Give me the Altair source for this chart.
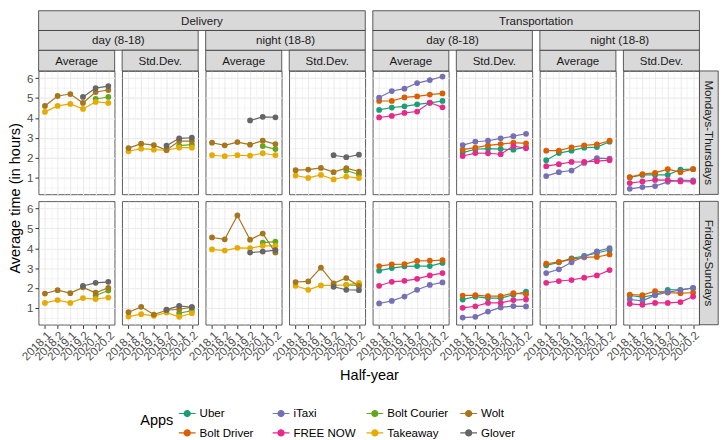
import altair as alt
import pandas as pd

N = None
halves = ["2018.1", "2018.2", "2019.1", "2019.2", "2020.1", "2020.2"]
apps = ["Uber", "Bolt Driver", "iTaxi", "FREE NOW", "Bolt Courier", "Takeaway", "Wolt", "Glover"]
app_colors = ["#1B9E77", "#D95F02", "#7570B3", "#E7298A", "#66A61E", "#E6AB02", "#A6761D", "#666666"]
legend_order = ["Uber", "iTaxi", "Bolt Courier", "Wolt", "Bolt Driver", "FREE NOW", "Takeaway", "Glover"]

sectors = ["Delivery", "Transportation"]
times = ["day (8-18)", "night (18-8)"]
stats = ["Average", "Std.Dev."]
days = ["Mondays-Thursdays", "Fridays-Sundays"]

# ---- Mondays-Thursdays ----
mt_del_day_avg = {"Bolt Courier": [N, N, N, N, 4.95, 5.05], "Takeaway": [4.3, 4.6, 4.7, 4.45, 4.8, 4.75],
                  "Wolt": [4.6, 5.1, 5.2, 4.75, 5.3, 5.4], "Glover": [N, N, N, 5.05, 5.5, 5.6]}
mt_del_day_sd = {"Bolt Courier": [N, N, N, N, 2.6, 2.65], "Takeaway": [2.32, 2.45, 2.4, 2.37, 2.5, 2.5],
                 "Wolt": [2.48, 2.7, 2.63, 2.38, 2.83, 2.83], "Glover": [N, N, N, 2.6, 2.97, 3.0]}
mt_del_night_avg = {"Bolt Courier": [N, N, N, N, 2.58, 2.43], "Takeaway": [2.12, 2.07, 2.12, 2.1, 2.22, 2.12],
                    "Wolt": [2.75, 2.62, 2.78, 2.65, 2.85, 2.68], "Glover": [N, N, N, 3.87, 4.05, 4.03]}
mt_del_night_sd = {"Bolt Courier": [N, N, N, N, 1.35, 1.15], "Takeaway": [1.1, 0.98, 1.13, 0.9, 1.05, 0.97],
                   "Wolt": [1.37, 1.4, 1.48, 1.27, 1.47, 1.3], "Glover": [N, N, N, 2.12, 2.02, 2.15]}
mt_tra_day_avg = {"Uber": [4.4, 4.52, 4.58, 4.68, 4.75, 4.85], "Bolt Driver": [4.85, 4.85, 5.03, 5.08, 5.17, 5.23],
                  "iTaxi": [5.02, 5.35, 5.47, 5.75, 5.9, 6.08], "FREE NOW": [4.02, 4.1, 4.25, 4.32, 4.77, 4.53]}
mt_tra_day_sd = {"Uber": [2.25, 2.42, 2.45, 2.43, 2.4, 2.53], "Bolt Driver": [2.4, 2.5, 2.62, 2.68, 2.75, 2.72],
                 "iTaxi": [2.63, 2.8, 2.85, 2.97, 3.08, 3.2], "FREE NOW": [2.08, 2.23, 2.22, 2.17, 2.58, 2.47]}
mt_tra_night_avg = {"Uber": [1.87, 2.23, 2.35, 2.5, 2.53, 2.8], "Bolt Driver": [2.35, 2.35, 2.52, 2.62, 2.67, 2.85],
                    "iTaxi": [1.07, 1.27, 1.35, 1.73, 1.97, 1.95], "FREE NOW": [1.57, 1.67, 1.78, 1.78, 1.82, 1.87]}
mt_tra_night_sd = {"Uber": [1.0, 1.13, 1.13, 1.13, 1.4, 1.42], "Bolt Driver": [1.02, 1.17, 1.23, 1.42, 1.27, 1.42],
                   "iTaxi": [0.43, 0.52, 0.57, 0.78, 0.87, 0.85], "FREE NOW": [0.72, 0.8, 0.88, 0.87, 0.8, 0.78]}

# ---- Fridays-Sundays ----
fs_del_day_avg = {"Bolt Courier": [N, N, N, N, 1.62, 1.87], "Takeaway": [1.25, 1.39, 1.25, 1.49, 1.44, 1.52],
                  "Wolt": [1.72, 1.89, 1.74, 2.03, 1.76, 2.01], "Glover": [N, N, N, 2.1, 2.26, 2.31]}
fs_del_day_sd = {"Bolt Courier": [N, N, N, N, 0.73, 0.86], "Takeaway": [0.56, 0.68, 0.6, 0.76, 0.55, 0.73],
                 "Wolt": [0.78, 1.05, 0.66, 0.88, 0.93, 1.03], "Glover": [N, N, N, 0.91, 1.1, 1.03]}
fs_del_night_avg = {"Bolt Courier": [N, N, N, N, 4.28, 4.33], "Takeaway": [3.94, 3.88, 4.02, 4.0, 4.12, 4.12],
                    "Wolt": [4.54, 4.45, 5.65, 4.43, 4.74, 3.78], "Glover": [N, N, N, 3.78, 3.83, 3.9]}
fs_del_night_sd = {"Bolt Courier": [N, N, N, N, 2.16, 2.13], "Takeaway": [2.11, 1.91, 2.13, 2.13, 2.16, 2.26],
                   "Wolt": [2.3, 2.33, 3.02, 2.23, 2.5, 2.1], "Glover": [N, N, N, 2.06, 1.91, 1.89]}
fs_tra_day_avg = {"Uber": [2.87, 3.0, 3.09, 3.1, 3.1, 3.26], "Bolt Driver": [3.1, 3.19, 3.2, 3.36, 3.37, 3.4],
                  "iTaxi": [1.22, 1.35, 1.57, 1.91, 2.15, 2.28], "FREE NOW": [2.11, 2.31, 2.36, 2.46, 2.63, 2.75]}
fs_tra_day_sd = {"Uber": [1.42, 1.56, 1.49, 1.49, 1.66, 1.82], "Bolt Driver": [1.62, 1.64, 1.59, 1.59, 1.74, 1.69],
                 "iTaxi": [0.51, 0.55, 0.81, 1.02, 1.09, 1.07], "FREE NOW": [1.0, 1.08, 1.25, 1.25, 1.39, 1.42]}
fs_tra_night_avg = {"Uber": [3.14, 3.29, 3.49, 3.61, 3.76, 3.91], "Bolt Driver": [3.22, 3.31, 3.44, 3.54, 3.56, 3.69],
                    "iTaxi": [2.75, 2.94, 3.29, 3.58, 3.84, 4.01], "FREE NOW": [2.26, 2.35, 2.4, 2.52, 2.63, 2.9]}
fs_tra_night_sd = {"Uber": [1.62, 1.54, 1.66, 1.91, 1.91, 1.99], "Bolt Driver": [1.67, 1.64, 1.84, 1.77, 1.74, 1.76],
                   "iTaxi": [1.42, 1.35, 1.64, 1.79, 1.89, 2.01], "FREE NOW": [1.2, 1.15, 1.25, 1.25, 1.29, 1.57]}

rows_data = [
    [mt_del_day_avg, mt_del_day_sd, mt_del_night_avg, mt_del_night_sd,
     mt_tra_day_avg, mt_tra_day_sd, mt_tra_night_avg, mt_tra_night_sd],
    [fs_del_day_avg, fs_del_day_sd, fs_del_night_avg, fs_del_night_sd,
     fs_tra_day_avg, fs_tra_day_sd, fs_tra_night_avg, fs_tra_night_sd],
]

# ---- layout / style ----
W, H, S, GAP = 77, 125, 7.6, 7
SH = [20, 20, 21]          # strip heights (level 1, 2, 3)
RW = 19                    # right strip width
FONT = "Liberation Sans"
STRIP_FILL, STRIP_STROKE = "#D9D9D9", "#333333"
legend_colors = [app_colors[apps.index(a)] for a in legend_order]
ygrid = [0.5 + 0.5 * i for i in range(12)]
xgrid = [1 + 0.5 * i for i in range(11)]
half_js = "[" + ",".join("'%s'" % h for h in halves) + "]"
major = "datum.value % 1 == 0"


def make_df(d):
    recs = []
    for app in apps:
        if app in d:
            for i, v in enumerate(d[app]):
                if v is not None:
                    recs.append({"app": app, "x": i + 1, "value": v, "ord": apps.index(app)})
    return pd.DataFrame(recs)


legend = alt.Legend(
    title="Apps", orient="none", legendX=103, legendY=337, direction="horizontal", columns=4,
    gridAlign="all", titleOrient="left", titleAnchor="middle", titleBaseline="middle", titleFontSize=14.7,
    titleFontWeight="normal", titleColor="black", titlePadding=4, labelFontSize=11.7,
    labelColor="black", symbolType="M-1,0L1,0M-0.36,0A0.36,0.36,0,1,0,0.36,0A0.36,0.36,0,1,0,-0.36,0Z",
    symbolSize=289, symbolStrokeWidth=1.2, columnPadding=8, rowPadding=3, labelOffset=3,
)


def strip_layer(label, x0, x1, y0, y1, angle=0):
    df = pd.DataFrame({"label": [label]})
    box = alt.Chart(df).mark_rect(fill=STRIP_FILL, stroke=STRIP_STROKE, strokeWidth=0.8).encode(
        x=alt.value(x0), x2=alt.value(x1), y=alt.value(y0), y2=alt.value(y1))
    txt = alt.Chart(df).mark_text(font=FONT, fontSize=11.7, color="#1A1A1A", angle=angle,
                                  baseline="middle", align="center").encode(
        x=alt.value((x0 + x1) / 2), y=alt.value((y0 + y1) / 2), text="label:N")
    return [box, txt]


def panel(d, ci, ri):
    first, last = ci == 0, ri == 1
    xaxis = alt.Axis(
        values=xgrid, labelExpr="%s ? %s[datum.value - 1] : ''" % (major, half_js),
        labels=last, ticks=last, domain=False, labelAngle=-45, labelAlign="right", labelBaseline="top",
        labelOverlap=False, labelFlush=False, labelBound=False, labelPadding=1,
        tickOpacity={"condition": {"test": major, "value": 1}, "value": 0},
        gridWidth={"condition": {"test": major, "value": 1.1}, "value": 0.55},
        title=("Half-year" if (last and first) else None), titleX=(8 * W + 7 * S) / 2, titlePadding=5,
    )
    yaxis = alt.Axis(
        values=ygrid, labelExpr="%s ? format(datum.value, 'd') : ''" % major, labels=first, ticks=first,
        domain=False, labelOverlap=False, labelFlush=False, labelBound=False, labelPadding=2,
        tickOpacity={"condition": {"test": major, "value": 1}, "value": 0},
        gridWidth={"condition": {"test": major, "value": 1.1}, "value": 0.55},
        title=("Average time (in hours)" if (first and ri == 0) else None), titleY=H + GAP / 2, titlePadding=4,
    )
    base = alt.Chart(make_df(d)).encode(
        x=alt.X("x:Q", scale=alt.Scale(domain=[0.5, 6.5], nice=False, zero=False), axis=xaxis),
        y=alt.Y("value:Q", scale=alt.Scale(domain=[0.15, 6.36], nice=False, zero=False), axis=yaxis),
        color=alt.Color("app:N", scale=alt.Scale(domain=legend_order, range=legend_colors), legend=legend),
        order=alt.Order("ord:Q"),
    )
    layers = [base.mark_line(strokeWidth=1.2), base.mark_point(filled=True, size=34, opacity=1)]
    if ri == 0:
        # nested strips above the top row
        layers += strip_layer(stats[ci % 2], 0, W, -SH[2], 0)
        if ci % 2 == 0:
            layers += strip_layer(times[(ci // 2) % 2], 0, 2 * W + S, -SH[2] - SH[1], -SH[2])
        if ci % 4 == 0:
            layers += strip_layer(sectors[ci // 4], 0, 4 * W + 3 * S, -sum(SH), -SH[2] - SH[1])
    if ci == 7:
        layers += strip_layer(days[ri], W, W + RW, 0, H, angle=90)
    return alt.layer(*layers).properties(width=W, height=H)


cells = [panel(d, ci, ri) for ri in range(2) for ci, d in enumerate(rows_data[ri])]

chart = alt.concat(*cells, columns=8, spacing={"row": GAP, "column": S}, bounds="flush").properties(
    padding={"left": -1, "top": -1, "right": 0, "bottom": 0}
).configure_view(
    stroke="#333333", strokeWidth=0.8
).configure_axis(
    labelFont=FONT, titleFont=FONT, labelFontSize=11.7, labelColor="#4D4D4D", tickColor="#333333",
    tickSize=3.7, tickWidth=1, gridColor="#EBEBEB", titleFontSize=14.7, titleFontWeight="normal",
    titleColor="black",
).configure_legend(
    labelFont=FONT, titleFont=FONT,
)

chart.save("out.html", embed_options={"renderer": "svg", "actions": False})
